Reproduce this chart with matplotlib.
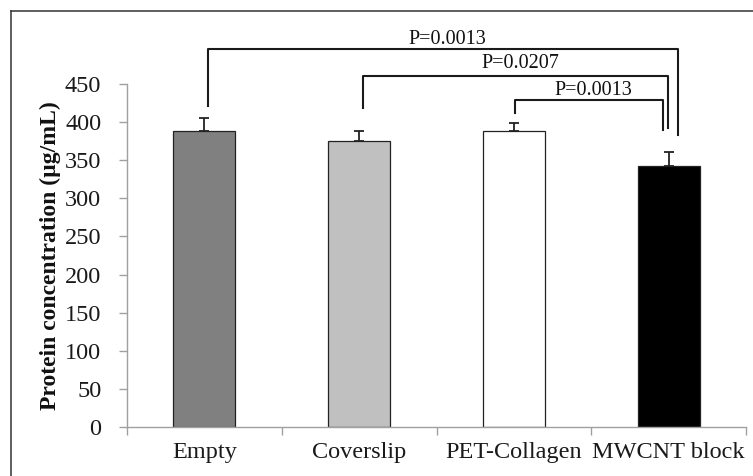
import matplotlib
matplotlib.use("Agg")
import matplotlib.pyplot as plt
from matplotlib.lines import Line2D

# data
groups = ["Empty", "Coverslip", "PET-Collagen", "MWCNT block"]
protein = [387.5, 374.5, 387.5, 342.5]
err = [17, 13.5, 11.5, 18.5]
bar_colors = ["#808080", "#c0c0c0", "#ffffff", "#000000"]
p_labels = ["P=0.0013", "P=0.0207", "P=0.0013"]
compare_from = [0, 1, 2]   # each compared with MWCNT block (index 3)

# bracket layout (x offsets from the group centres, heights in data units)
br_left_off = [0.023, 0.026, 0.006]
br_right_off = [0.058, -0.002, -0.039]
br_top = [496, 460, 428.6]
br_left_foot = [421, 418.5, 412]
br_right_foot = [383, 392, 389]
txt_base = [502, 470, 435.5]

serif = ["Liberation Serif", "DejaVu Serif"]
plt.rcParams["font.family"] = serif

fig = plt.figure(figsize=(7.53, 4.76), dpi=100)
ax = fig.add_axes([0.16866, 0.10231, 0.82205, 0.72185])

x = list(range(len(groups)))
ax.bar(x, protein, width=0.4, color=bar_colors, edgecolor="#222222", linewidth=0.9, zorder=2)
ax.errorbar(x, protein, yerr=[[0] * len(err), err], fmt="none", ecolor="#222222",
            elinewidth=1.3, capsize=3.5, capthick=1.3, zorder=3)

ax.set_xlim(-0.5, 3.5)
ax.set_ylim(0, 450)
ax.set_yticks(range(0, 451, 50))
ax.set_xticks(x)
ax.set_xticklabels(groups)
ax.set_xticks([i - 0.5 for i in range(len(groups) + 1)], minor=True)
ax.tick_params(axis="x", which="major", length=0, pad=10.5, labelsize=17.5, colors="#1a1a1a")
ax.tick_params(axis="x", which="minor", length=5.5, width=1, color="#a0a0a0", direction="out")
ax.tick_params(axis="y", length=5.5, width=1, color="#a0a0a0", pad=13, labelsize=17.5,
               labelcolor="#1a1a1a")

for s in ["top", "right"]:
    ax.spines[s].set_visible(False)
for s in ["left", "bottom"]:
    ax.spines[s].set_color("#a0a0a0")
    ax.spines[s].set_linewidth(1)

ax.set_ylabel("Protein concentration (µg/mL)", fontsize=17, fontweight="bold", color="#111111")
ax.yaxis.set_label_coords(-0.107, 0.5)

# significance brackets
for k, i in enumerate(compare_from):
    x0 = i + br_left_off[k]
    x1 = 3 + br_right_off[k]
    ax.plot([x0, x0, x1, x1], [br_left_foot[k], br_top[k], br_top[k], br_right_foot[k]],
            color="#1a1a1a", linewidth=1.5, clip_on=False, zorder=4)
    ax.text((x0 + x1) / 2 + 0.03, txt_base[k], p_labels[k], ha="center", va="baseline",
            fontsize=14.5, color="#111111", clip_on=False)

# outer frame (left and top edges only visible)
fig.add_artist(Line2D([10.5 / 753, 10.5 / 753], [0, 1 - 11 / 476], transform=fig.transFigure,
                      color="#333333", linewidth=1.1))
fig.add_artist(Line2D([10.5 / 753, 1], [1 - 11 / 476, 1 - 11 / 476], transform=fig.transFigure,
                      color="#333333", linewidth=1.1))

fig.savefig("out.png", dpi=100, facecolor="white")
